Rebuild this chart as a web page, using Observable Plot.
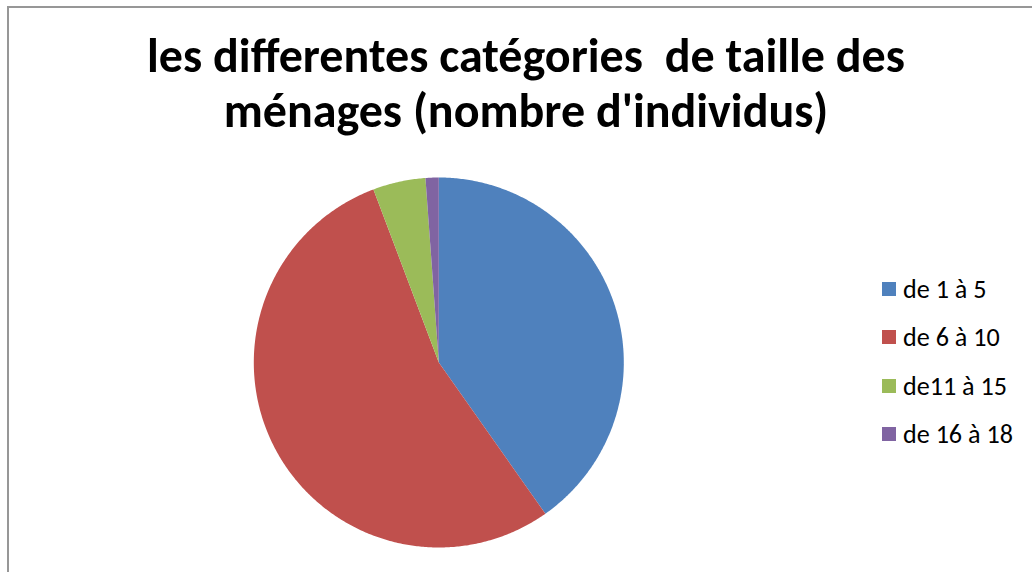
<!DOCTYPE html>
<html>
<head>
<meta charset="utf-8">
<script src="https://cdn.jsdelivr.net/npm/d3@7"></script>
<script src="https://cdn.jsdelivr.net/npm/@observablehq/plot@0.6"></script>
<style>
  html, body { margin: 0; padding: 0; background: #fff; }
  #chart { position: relative; width: 1032px; height: 572px; overflow: hidden; background: #fff; }
  #frame { position: absolute; left: 7px; top: 6px; width: 1200px; height: 800px;
           border-top: 2px solid #979797; border-left: 2px solid #979797; }
  #pieWrap, #titleWrap { position: absolute; left: 0; top: 0; }
  #legendWrap { position: absolute; left: 882px; top: 265px; }
  .lg-swatches { margin: 0; color: #000; }
  .lg-swatch { height: 48.3px; padding: 0 !important; margin: 0 !important; display: flex; align-items: center; }
  .lg-swatch > svg { margin-right: 7px !important; }
</style>
</head>
<body>
<div id="chart">
  <div id="frame"></div>
  <div id="pieWrap"></div>
  <div id="titleWrap"></div>
  <div id="legendWrap"></div>
</div>
<script>
// ---- data ----
const categories = ["de 1 à 5", "de 6 à 10", "de11 à 15", "de 16 à 18"];
const counts = [35, 47, 4, 1];
const colors = ["#4F81BD", "#C0504D", "#9BBB59", "#8064A2"];
const titleLines = ["les differentes catégories  de taille des", "ménages (nombre d'individus)"];

// ---- layout ----
const W = 1032, H = 572;
const cx = 438.3, cy = 362, r = 185;
const FAMILY = "Calibri, Carlito, Lato, sans-serif";

function fitSize(text, weight, target) {
  const ctx = document.createElement("canvas").getContext("2d");
  ctx.font = `${weight} 100px ${FAMILY}`;
  return 100 * target / ctx.measureText(text).width;
}

const data = categories.map((category, i) => ({category, count: counts[i]}));
const arcs = d3.pie().sort(null).value(d => d.count)(data);
const features = arcs.map(a => {
  const n = Math.max(2, Math.ceil((a.endAngle - a.startAngle) / (Math.PI / 360)));
  const ring = [[0, 0]];
  for (let i = 0; i <= n; i++) {
    const t = a.startAngle + (a.endAngle - a.startAngle) * i / n;
    ring.push([Math.sin(t), -Math.cos(t)]);
  }
  ring.push([0, 0]);
  return {type: "Feature", properties: {category: a.data.category},
          geometry: {type: "Polygon", coordinates: [ring]}};
});

const colorScale = {type: "ordinal", domain: categories, range: colors};

const pie = Plot.plot({
  width: W, height: H,
  marginLeft: cx - r, marginRight: W - cx - r,
  marginTop: cy - r, marginBottom: H - cy - r,
  projection: {
    type: "identity",
    clip: false,
    domain: {type: "Polygon", coordinates: [[[-1, -1], [1, -1], [1, 1], [-1, 1], [-1, -1]]]}
  },
  color: colorScale,
  style: {background: "transparent", overflow: "visible"},
  marks: [
    Plot.geo(features, {fill: d => d.properties.category, stroke: "none"})
  ]
});
document.getElementById("pieWrap").appendChild(pie);

// ---- title ----
const titleSize = fitSize(titleLines[0], "bold", 758);
const tsvg = d3.select("#titleWrap").append("svg").attr("width", W).attr("height", 160);
const baselines = [72, 127];
titleLines.forEach((line, i) => {
  tsvg.append("text")
    .attr("x", 526).attr("y", baselines[i])
    .attr("text-anchor", "middle")
    .style("white-space", "pre")
    .attr("font-family", FAMILY)
    .attr("font-weight", "bold")
    .attr("font-size", titleSize)
    .attr("fill", "#000")
    .text(line);
});

// ---- legend ----
const legendSize = fitSize("de 16 à 18", "normal", 110);
const legend = Plot.legend({
  color: colorScale,
  legend: "swatches",
  columns: 1,
  swatchSize: 14,
  className: "lg"
});
legend.style.fontFamily = FAMILY;
legend.style.fontSize = legendSize + "px";
document.getElementById("legendWrap").appendChild(legend);
</script>
</body>
</html>
